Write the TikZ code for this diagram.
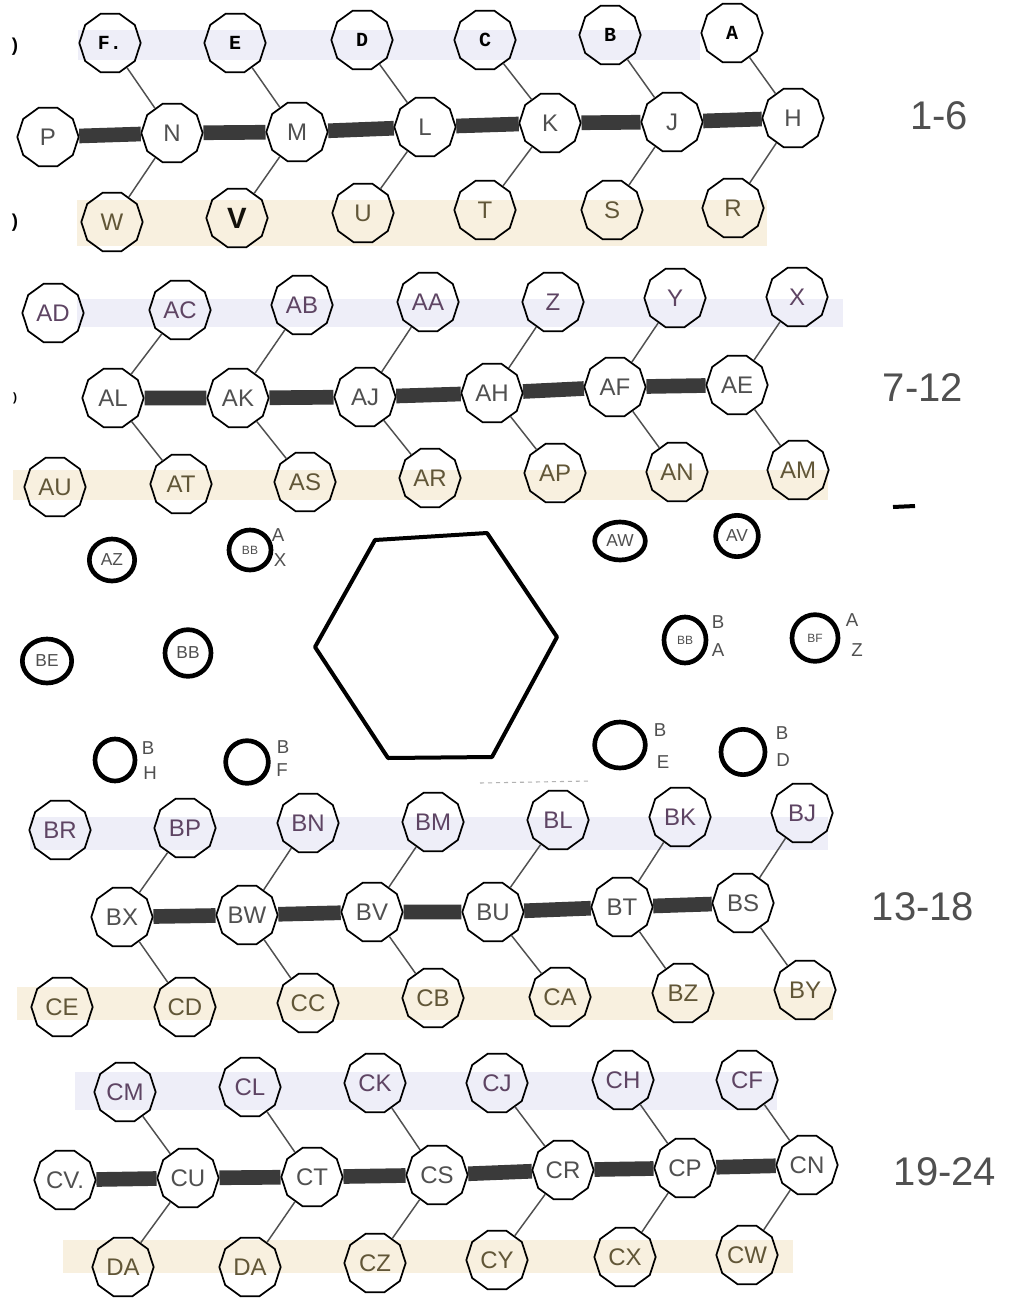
\documentclass[tikz,border=0pt]{standalone}
\usepackage{fontspec}
\setmainfont{Liberation Sans}
\newfontfamily\monob{Liberation Mono}
\usetikzlibrary{shapes.geometric}
\definecolor{lav}{HTML}{EEEEF8}
\definecolor{beig}{HTML}{F8F0DF}
\definecolor{purp}{HTML}{5E4463}
\definecolor{oliv}{HTML}{615637}
\definecolor{pen}{HTML}{505050}
\definecolor{barc}{HTML}{3A3A3A}
\begin{document}
\begin{tikzpicture}[x=0.75pt,y=-0.75pt,
  hx/.style={draw=black,line width=1.3pt,regular polygon,regular polygon sides=10,minimum size=46pt,inner sep=0pt,font=\fontsize{18}{18}\selectfont},
  tp/.style={hx,text=purp},
  md/.style={hx,text=pen},
  bt/.style={hx,text=oliv},
  ty/.style={hx,font=\monob\bfseries\fontsize{15}{15}\selectfont},
  lnk/.style={draw=pen,line width=1.1pt},
  thk/.style={draw=barc,line width=11pt},
  ring/.style={draw=black,line width=3.5pt,ellipse,inner sep=0pt,font=\fontsize{13}{13}\selectfont,text=pen},
  sm/.style={font=\fontsize{14}{14}\selectfont,text=pen,inner sep=0pt},
  rng/.style={font=\fontsize{30}{30}\selectfont,text=pen,inner sep=0pt},
  pgmark/.style={font=\fontsize{14}{14}\selectfont\bfseries,inner sep=0pt}
]
\useasboundingbox (0,0) rectangle (1034,1298);
\fill[white] (0,0) rectangle (1034,1298);
% bands
\fill[lav] (78,30) rectangle (700,60);
\fill[beig] (77,200) rectangle (767,246);
\fill[lav] (77,299) rectangle (843,327);
\fill[beig] (13,470) rectangle (828,500);
\fill[lav] (30,817) rectangle (828,850);
\fill[beig] (17,987) rectangle (833,1020);
\fill[lav] (75,1072) rectangle (777,1110);
\fill[beig] (63,1240) rectangle (793,1273);

% ---------- section 1 ----------
\node[ty] (F) at (110,43) {F.};
\node[ty] (E) at (235,43) {E};
\node[ty] (D) at (362,40) {D};
\node[ty] (C) at (485,40) {C};
\node[ty] (B) at (610,35) {B};
\node[ty] (A) at (732,33) {A};
\node[md] (P) at (48,137) {P};
\node[md] (N) at (172,133) {N};
\node[md] (M) at (297,132) {M};
\node[md] (L) at (425,127) {L};
\node[md] (K) at (550,123) {K};
\node[md] (J) at (672,122) {J};
\node[md] (H) at (793,118) {H};
\node[bt] (W) at (112,222) {W};
\node[bt,font=\fontsize{22}{22}\selectfont\bfseries,text=black!80!oliv] (V) at (237,218) {V};
\node[bt] (U) at (363,213) {U};
\node[bt] (T) at (485,210) {T};
\node[bt] (S) at (612,210) {S};
\node[bt] (R) at (733,208) {R};
\foreach \a/\b in {F/N,E/M,D/L,C/K,B/J,A/H,N/W,M/V,L/U,K/T,J/S,H/R} \draw[lnk] (\a) -- (\b);
\foreach \a/\b in {P/N,N/M,M/L,L/K,K/J,J/H} \draw[thk] (\a) -- (\b);
\node[rng] (r1) at (939,116) {1-6};

% ---------- section 2 ----------
\node[tp] (AD) at (53,313) {AD};
\node[tp] (AC) at (180,310) {AC};
\node[tp] (AB) at (302,305) {AB};
\node[tp] (AA) at (428,302) {AA};
\node[tp] (Z) at (553,302) {Z};
\node[tp] (Y) at (675,298) {Y};
\node[tp] (X) at (797,297) {X};
\node[md] (AL) at (113,398) {AL};
\node[md] (AK) at (238,398) {AK};
\node[md] (AJ) at (365,397) {AJ};
\node[md] (AH) at (492,393) {AH};
\node[md] (AF) at (615,387) {AF};
\node[md] (AE) at (737,385) {AE};
\node[bt] (AU) at (55,487) {AU};
\node[bt] (AT) at (181,484) {AT};
\node[bt] (AS) at (305,482) {AS};
\node[bt] (AR) at (430,478) {AR};
\node[bt] (AP) at (555,473) {AP};
\node[bt] (AN) at (677,472) {AN};
\node[bt] (AM) at (798,470) {AM};
\foreach \a/\b in {AL/AC,AK/AB,AJ/AA,AH/Z,AF/Y,AE/X,AL/AT,AK/AS,AJ/AR,AH/AP,AF/AN,AE/AM} \draw[lnk] (\a) -- (\b);
\foreach \a/\b in {AL/AK,AK/AJ,AJ/AH,AH/AF,AF/AE} \draw[thk] (\a) -- (\b);
\node[rng] (r2) at (923,388) {7-12};

% ---------- middle section ----------
\draw[line width=3pt,line join=round] (315,647) -- (375,540) -- (487,533) -- (557,637) -- (492,757) -- (388,758) -- cycle;
\node[ring,minimum width=34pt,minimum height=31.5pt] (AZc) at (112,560) {AZ};
\node[ring,minimum width=31.5pt,minimum height=30pt,font=\fontsize{9}{9}\selectfont] (AXc) at (250,550) {BB};
\node[sm] (AXa) at (278,535) {A};
\node[sm] (AXb) at (280,560) {X};
\node[ring,minimum width=37pt,minimum height=33pt] (BEc) at (47,661) {BE};
\node[ring,minimum width=34.5pt,minimum height=35pt] (BBc) at (188,653) {BB};
\node[ring,minimum width=30pt,minimum height=31.5pt] (BHc) at (115,760) {};
\node[sm] (BHa) at (148,748) {B};
\node[sm] (BHb) at (150,773) {H};
\node[ring,minimum width=32pt,minimum height=32pt] (BFc) at (247,762) {};
\node[sm] (BFa) at (283,747) {B};
\node[sm] (BFb) at (282,770) {F};
\node[ring,minimum width=38pt,minimum height=28.5pt] (AWc) at (620,541) {AW};
\node[ring,minimum width=32pt,minimum height=31pt] (AVc) at (737,536) {AV};
\node[ring,minimum width=31.5pt,minimum height=34.5pt,font=\fontsize{9}{9}\selectfont] (BAc) at (685,640) {BB};
\node[sm] (BAa) at (718,622) {B};
\node[sm] (BAb) at (718,650) {A};
\node[ring,minimum width=34.5pt,minimum height=35pt,font=\fontsize{9}{9}\selectfont] (AZd) at (815,638) {BF};
\node[sm] (AZa) at (852,620) {A};
\node[sm] (AZb) at (857,650) {Z};
\node[ring,minimum width=38pt,minimum height=34.5pt] (BEo) at (620,745) {};
\node[sm] (BEa) at (660,730) {B};
\node[sm] (BEb) at (663,762) {E};
\node[ring,minimum width=33pt,minimum height=34pt] (BDc) at (743,752) {};
\node[sm] (BDa) at (782,733) {B};
\node[sm] (BDb) at (783,760) {D};

% ---------- section 4 ----------
\node[tp] (BR) at (60,830) {BR};
\node[tp] (BP) at (185,828) {BP};
\node[tp] (BN) at (308,823) {BN};
\node[tp] (BM) at (433,822) {BM};
\node[tp] (BL) at (558,820) {BL};
\node[tp] (BK) at (680,817) {BK};
\node[tp] (BJ) at (802,813) {BJ};
\node[md] (BX) at (122,917) {BX};
\node[md] (BW) at (247,915) {BW};
\node[md] (BV) at (372,912) {BV};
\node[md] (BU) at (493,912) {BU};
\node[md] (BT) at (622,907) {BT};
\node[md] (BS) at (743,903) {BS};
\node[bt] (CE) at (62,1007) {CE};
\node[bt] (CD) at (185,1007) {CD};
\node[bt] (CC) at (308,1003) {CC};
\node[bt] (CB) at (433,998) {CB};
\node[bt] (CA) at (560,997) {CA};
\node[bt] (BZ) at (683,993) {BZ};
\node[bt] (BY) at (805,990) {BY};
\foreach \a/\b in {BX/BP,BW/BN,BV/BM,BU/BL,BT/BK,BS/BJ,BX/CD,BW/CC,BV/CB,BU/CA,BT/BZ,BS/BY} \draw[lnk] (\a) -- (\b);
\foreach \a/\b in {BX/BW,BW/BV,BV/BU,BU/BT,BT/BS} \draw[thk] (\a) -- (\b);
\node[rng] (r3) at (923,907) {13-18};

% ---------- section 5 ----------
\node[tp] (CM) at (125,1092) {CM};
\node[tp] (CL) at (250,1087) {CL};
\node[tp] (CK) at (375,1083) {CK};
\node[tp] (CJ) at (497,1083) {CJ};
\node[tp] (CH) at (623,1080) {CH};
\node[tp] (CF) at (747,1080) {CF};
\node[md] (CV) at (65,1180) {CV.};
\node[md] (CU) at (188,1178) {CU};
\node[md] (CT) at (312,1177) {CT};
\node[md] (CS) at (437,1175) {CS};
\node[md] (CR) at (563,1170) {CR};
\node[md] (CP) at (685,1168) {CP};
\node[md] (CN) at (807,1165) {CN};
\node[bt] (DA1) at (123,1267) {DA};
\node[bt] (DA2) at (250,1267) {DA};
\node[bt] (CZ) at (375,1263) {CZ};
\node[bt] (CY) at (497,1260) {CY};
\node[bt] (CX) at (625,1257) {CX};
\node[bt] (CW) at (747,1255) {CW};
\foreach \a/\b in {CU/CM,CT/CL,CS/CK,CR/CJ,CP/CH,CN/CF,CU/DA1,CT/DA2,CS/CZ,CR/CY,CP/CX,CN/CW} \draw[lnk] (\a) -- (\b);
\foreach \a/\b in {CV/CU,CU/CT,CT/CS,CS/CR,CR/CP,CP/CN} \draw[thk] (\a) -- (\b);
\node[rng] (r4) at (945,1172) {19-24};

% page marks
\node[pgmark] (m1) at (15,47) {)};
\node[pgmark] (m2) at (15,223) {)};
\node[pgmark,font=\fontsize{9}{9}\selectfont\bfseries] (m3) at (15,398) {)};
\draw[line width=3pt] (893,507) -- (915,506);
\draw[gray!60,dashed,line width=0.8pt] (480,783) -- (590,781);
\end{tikzpicture}
\end{document}
